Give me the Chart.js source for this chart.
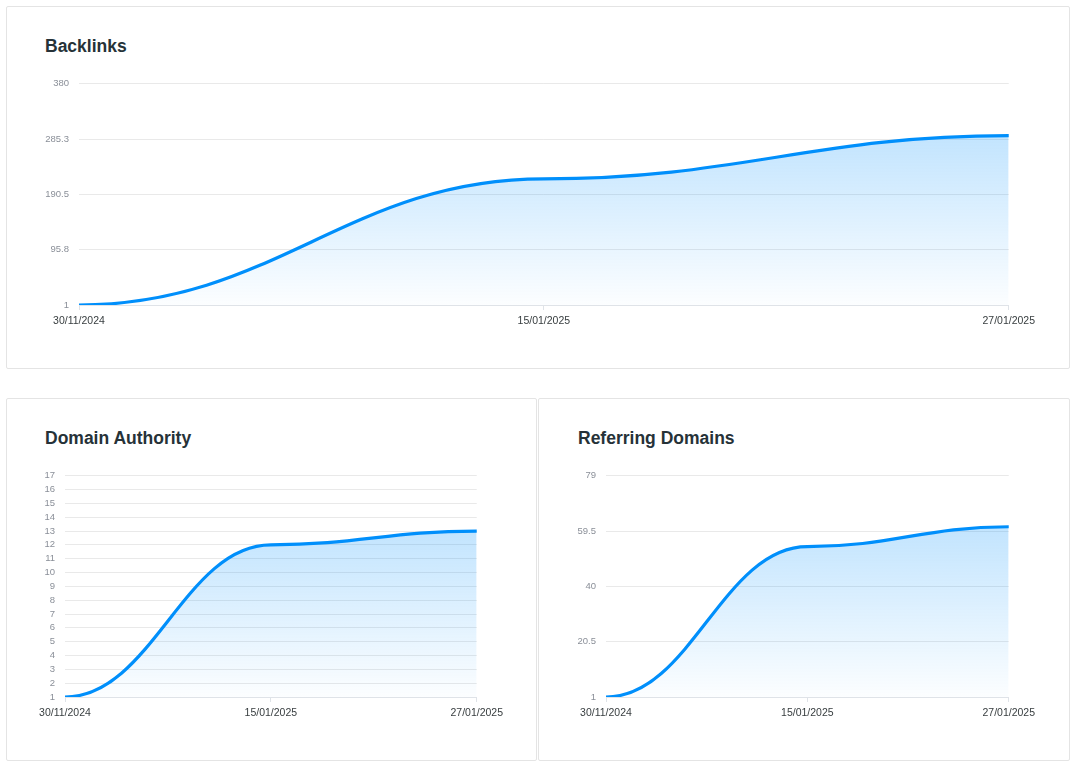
<!DOCTYPE html>
<html>
<head>
<meta charset="utf-8">
<script src="https://cdn.jsdelivr.net/npm/chart.js@4/dist/chart.umd.min.js"></script>
<style>
  body { margin: 0; background: #fff; font-family: "Liberation Sans", Arial, sans-serif; }
  .card { position: absolute; box-sizing: border-box; border: 1px solid #e4e4e4; border-radius: 2px; background: #fff; }
  .title { position: absolute; font-size: 17.5px; line-height: 17px; font-weight: bold; color: #263238; }
  .box { position: absolute; }
</style>
</head>
<body>
<div class="card" style="left:6px;top:6px;width:1064px;height:363px"></div>
<div class="card" style="left:6px;top:398px;width:531px;height:363px"></div>
<div class="card" style="left:538px;top:398px;width:532px;height:363px"></div>

<div class="title" style="left:45px;top:38px">Backlinks</div>
<div class="title" style="left:45px;top:430px">Domain Authority</div>
<div class="title" style="left:578px;top:430px">Referring Domains</div>

<div class="box" style="left:30px;top:68px;width:1010px;height:267px"><canvas id="backlinks"></canvas></div>
<div class="box" style="left:20px;top:460px;width:488px;height:267px"><canvas id="authority"></canvas></div>
<div class="box" style="left:560px;top:460px;width:480px;height:267px"><canvas id="referring"></canvas></div>

<script>
const dates = ['30/11/2024', '15/01/2025', '27/01/2025'];

const backlinks = [1, 217, 291];
const backlinksTicks = [1, 95.75, 190.5, 285.25, 380];

const authority = [1, 12, 13];
const authorityTicks = [1, 2, 3, 4, 5, 6, 7, 8, 9, 10, 11, 12, 13, 14, 15, 16, 17];

const referring = [1, 54, 61];
const referringTicks = [1, 20.5, 40, 59.5, 79];

// smooth curve with flat tangents at every point (like the original)
const flatCurve = {
  id: 'flatCurve',
  beforeDatasetsDraw(chart) {
    chart.getSortedVisibleDatasetMetas().forEach(meta => {
      meta.dataset.updateControlPoints(chart.chartArea, meta.iScale.axis);
      const pts = meta.data;
      pts.forEach((p, i) => {
        const prev = pts[i - 1], next = pts[i + 1];
        p.cp1x = prev ? p.x - (p.x - prev.x) * 0.42 : p.x;
        p.cp1y = p.y;
        p.cp2x = next ? p.x + (next.x - p.x) * 0.42 : p.x;
        p.cp2y = p.y;
      });
      meta.dataset._path = undefined;
    });
  }
};

function makeChart(id, values, ticks, yWidth) {
  const ctx = document.getElementById(id).getContext('2d');
  return new Chart(ctx, {
    type: 'line',
    data: {
      labels: dates,
      datasets: [{
        data: values,
        borderColor: '#008FFB',
        borderWidth: 3.2,
        pointRadius: 0,
        tension: 0.4,
        fill: 'start',
        backgroundColor: (c) => {
          const chart = c.chart;
          const area = chart.chartArea;
          if (!area) return 'rgba(0,143,251,0.15)';
          const top = chart.scales.y.getPixelForValue(Math.max(...values));
          const g = chart.ctx.createLinearGradient(0, top, 0, area.bottom);
          g.addColorStop(0, 'rgba(0,143,251,0.24)');
          g.addColorStop(1, 'rgba(0,143,251,0.01)');
          return g;
        }
      }]
    },
    options: {
      responsive: true,
      maintainAspectRatio: false,
      animation: false,
      layout: { padding: { top: 2, right: 31, left: 0, bottom: 0 } },
      plugins: { legend: { display: false }, tooltip: { enabled: false } },
      scales: {
        x: {
          grid: { drawOnChartArea: false, drawTicks: true, tickLength: 5, color: '#dfe3e8' },
          border: { display: true, color: '#dfe3e8' },
          ticks: {
            padding: 5, maxRotation: 0, autoSkip: false,
            color: '#373d3f',
            font: { family: 'Liberation Sans', size: 10.5 }
          },
          afterFit: (s) => { s.height = 30; }
        },
        y: {
          min: ticks[0],
          max: ticks[ticks.length - 1],
          grid: { drawTicks: false, color: '#e9e9e9' },
          border: { display: false },
          ticks: {
            padding: 10,
            autoSkip: false,
            color: '#8a8f98',
            font: { family: 'Liberation Sans', size: 9.5 },
            callback: (v) => Math.round(v * 10) / 10
          },
          afterBuildTicks: (s) => { s.ticks = ticks.map(v => ({ value: v })); },
          afterFit: (s) => { s.width = yWidth; }
        }
      }
    },
    plugins: [flatCurve]
  });
}

makeChart('backlinks', backlinks, backlinksTicks, 49);
makeChart('authority', authority, authorityTicks, 45);
makeChart('referring', referring, referringTicks, 46);
</script>
</body>
</html>
